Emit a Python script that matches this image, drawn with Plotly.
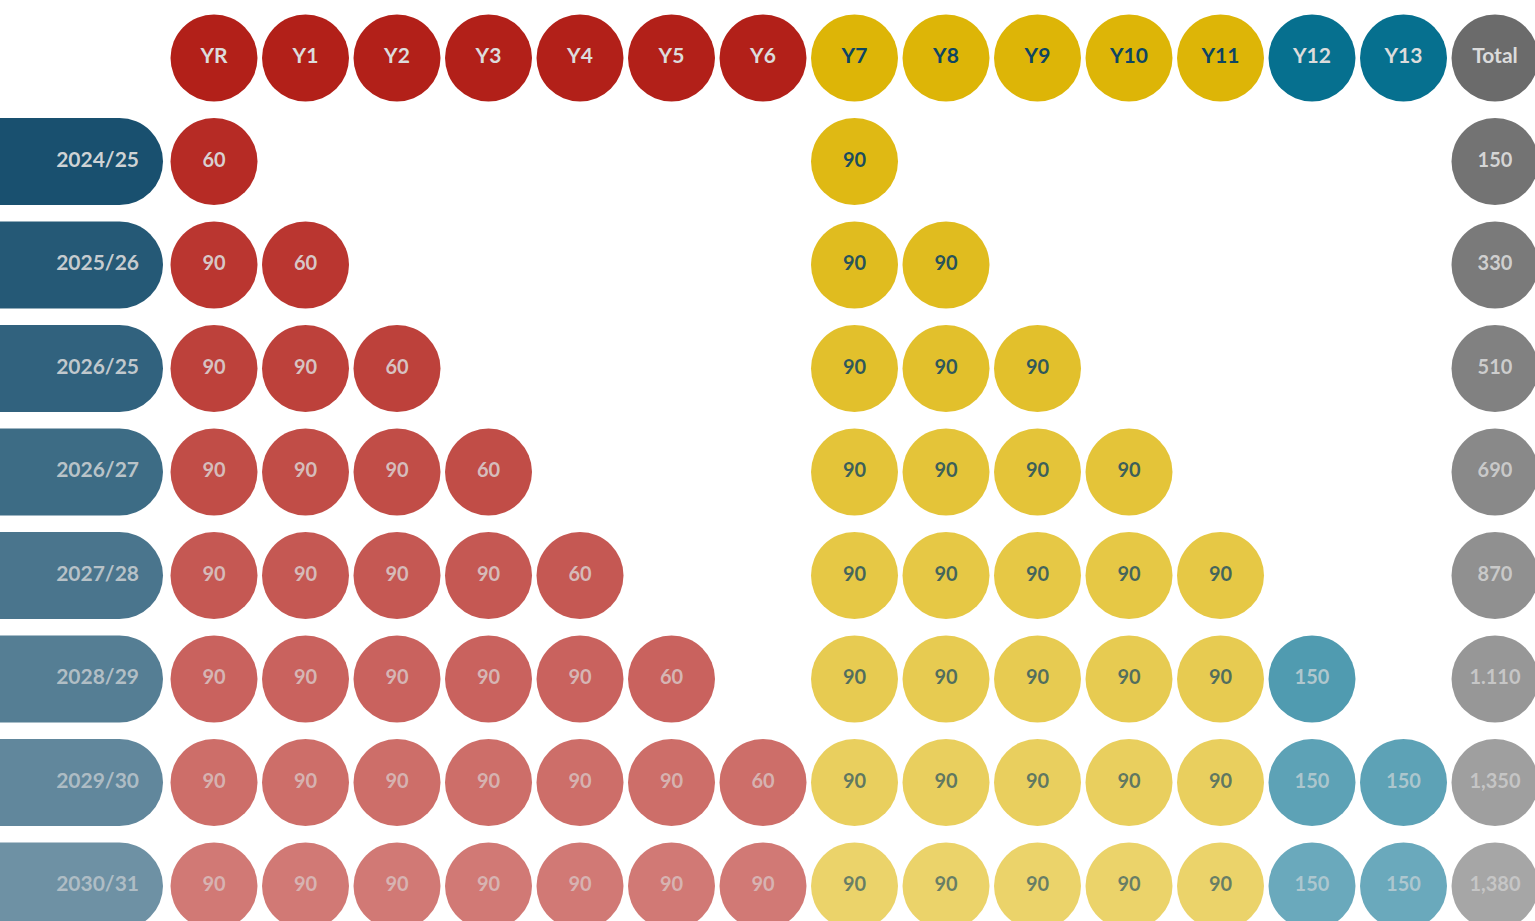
import plotly.graph_objects as go

# ---------------- data ----------------
columns = ["YR", "Y1", "Y2", "Y3", "Y4", "Y5", "Y6",
           "Y7", "Y8", "Y9", "Y10", "Y11", "Y12", "Y13", "Total"]
groups = ["primary"] * 7 + ["secondary"] * 5 + ["sixth"] * 2 + ["total"]
years = ["2024/25", "2025/26", "2026/25", "2026/27",
         "2027/28", "2028/29", "2029/30", "2030/31"]

N = None
v_2024 = [60, N, N, N, N, N, N, 90, N, N, N, N, N, N]
v_2025 = [90, 60, N, N, N, N, N, 90, 90, N, N, N, N, N]
v_2026a = [90, 90, 60, N, N, N, N, 90, 90, 90, N, N, N, N]
v_2026b = [90, 90, 90, 60, N, N, N, 90, 90, 90, 90, N, N, N]
v_2027 = [90, 90, 90, 90, 60, N, N, 90, 90, 90, 90, 90, N, N]
v_2028 = [90, 90, 90, 90, 90, 60, N, 90, 90, 90, 90, 90, 150, N]
v_2029 = [90, 90, 90, 90, 90, 90, 60, 90, 90, 90, 90, 90, 150, 150]
v_2030 = [90, 90, 90, 90, 90, 90, 90, 90, 90, 90, 90, 90, 150, 150]
row_values = [v_2024, v_2025, v_2026a, v_2026b, v_2027, v_2028, v_2029, v_2030]
total_labels = ["150", "330", "510", "690", "870", "1.110", "1,350", "1,380"]

# ---------------- styles ----------------
fill = {"primary": (178, 32, 25), "secondary": (221, 181, 7),
        "sixth": (6, 112, 143), "total": (107, 107, 107)}
text_rgb = {"primary": (220, 220, 220), "secondary": (14, 69, 99),
            "sixth": (220, 220, 220), "total": (220, 220, 220)}
pill_rgb = (13, 71, 103)
pill_text_rgb = (220, 220, 220)
row_alpha = [1.0, 0.95, 0.9, 0.85, 0.8, 0.75, 0.7, 0.65, 0.6]

FONT = "Lato"

def rgba(c, a):
    return f"rgba({c[0]},{c[1]},{c[2]},{a})"

# pixel geometry -> axis ranges (1 unit = one column / one row)
W, H = 1535, 921
col_px, row_px = 91.5, 103.5
x0_px, y0_px = 214, 58
diam = 87
xr = [-x0_px / col_px, (W - x0_px) / col_px]
yr = [(H - y0_px) / row_px, -y0_px / row_px]

fig = go.Figure()

# pills for years (horizontal bars with rounded end)
pill_end = (163 - x0_px) / col_px
pill_base = xr[0] - 1
fig.add_trace(go.Bar(
    orientation="h",
    y=list(range(1, len(years) + 1)),
    x=[pill_end - pill_base] * len(years),
    base=[pill_base] * len(years),
    width=diam / row_px,
    marker=dict(color=[rgba(pill_rgb, row_alpha[i + 1]) for i in range(len(years))],
                line=dict(width=0)),
    hoverinfo="skip", showlegend=False,
))
label_x = (139 - x0_px) / col_px
fig.add_trace(go.Scatter(
    x=[label_x] * len(years), y=list(range(1, len(years) + 1)),
    mode="text", text=years, textposition="middle left",
    textfont=dict(family=FONT, size=21, weight=700,
                  color=[rgba(pill_text_rgb, row_alpha[i + 1]) for i in range(len(years))]),
    hoverinfo="skip", showlegend=False,
))

# header row
fig.add_trace(go.Scatter(
    x=list(range(len(columns))), y=[0] * len(columns),
    mode="markers+text", text=columns, textposition="middle center",
    marker=dict(size=diam, color=[rgba(fill[g], 1) for g in groups], line=dict(width=0)),
    textfont=dict(family=FONT, size=21, weight=700,
                  color=[rgba(text_rgb[g], 1) for g in groups]),
    hoverinfo="skip", showlegend=False, cliponaxis=False,
))

# data rows
for r, vals in enumerate(row_values, start=1):
    a = row_alpha[r]
    xs, txt, mc, tc = [], [], [], []
    for c, v in enumerate(vals):
        if v is None:
            continue
        g = groups[c]
        xs.append(c)
        txt.append(str(v))
        mc.append(rgba(fill[g], a))
        tc.append(rgba(text_rgb[g], a))
    xs.append(len(columns) - 1)
    txt.append(total_labels[r - 1])
    mc.append(rgba(fill["total"], a))
    tc.append(rgba(text_rgb["total"], a))
    fig.add_trace(go.Scatter(
        x=xs, y=[r] * len(xs), mode="markers+text", text=txt,
        textposition="middle center",
        marker=dict(size=diam, color=mc, line=dict(width=0)),
        textfont=dict(family=FONT, size=20, weight=700, color=tc),
        hoverinfo="skip", showlegend=False, cliponaxis=False,
    ))

fig.update_layout(
    width=W, height=H,
    margin=dict(l=0, r=0, t=0, b=0),
    paper_bgcolor="white", plot_bgcolor="white",
    barcornerradius="50%",
    xaxis=dict(range=xr, visible=False, showgrid=False, zeroline=False, fixedrange=True),
    yaxis=dict(range=yr, visible=False, showgrid=False, zeroline=False, fixedrange=True),
    showlegend=False,
)

fig.write_html("out.html", config={"displayModeBar": False},
               post_script="document.body.style.margin='0px';document.body.style.overflow='hidden';")
